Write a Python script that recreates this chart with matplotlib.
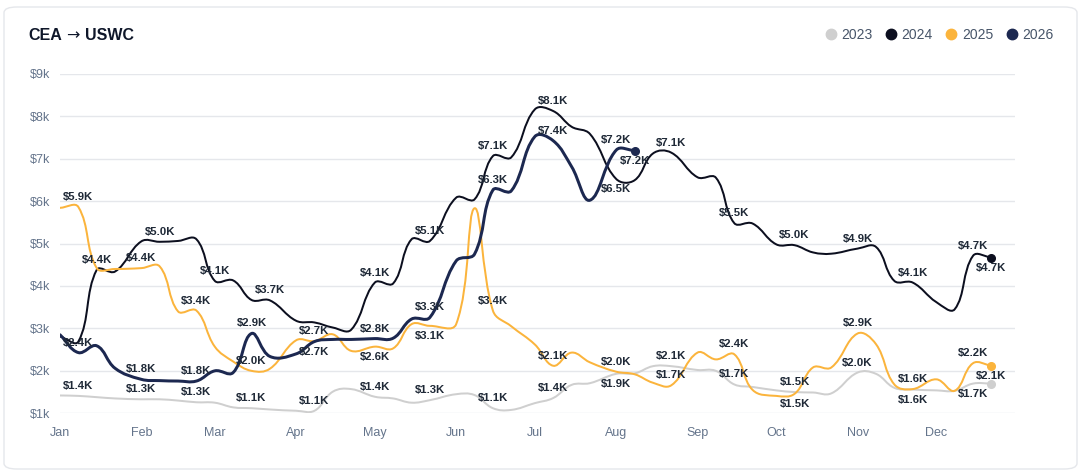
"""
CEA -> USWC weekly rate chart, one line per year
"""
import datetime
import numpy as np
import matplotlib
matplotlib.use("Agg")
import matplotlib.pyplot as plt
from matplotlib.path import Path
from matplotlib.patches import PathPatch, FancyBboxPatch
from matplotlib.lines import Line2D

plt.rcParams['font.family'] = ['Liberation Sans', 'DejaVu Sans']

# data: 4 points per month (1st, 8th, 15th, 22nd), values in $k
month_names = ['Jan', 'Feb', 'Mar', 'Apr', 'May', 'Jun',
               'Jul', 'Aug', 'Sep', 'Oct', 'Nov', 'Dec']
point_days = [1, 8, 15, 22]

rates_2023 = [1.42, 1.41, 1.38, 1.35, 1.33, 1.33, 1.30, 1.26, 1.25, 1.14, 1.12, 1.09,
              1.06, 1.06, 1.51, 1.57, 1.39, 1.35, 1.25, 1.31, 1.45, 1.43, 1.12, 1.08,
              1.24, 1.36, 1.67, 1.71, 1.93, 1.94, 2.11, 2.11, 2.02, 2.00, 1.68, 1.62,
              1.54, 1.50, 1.49, 1.47, 1.96, 1.93, 1.60, 1.56, 1.54, 1.53, 1.70, 1.70]
rates_2024 = [2.81, 2.69, 4.38, 4.34, 5.05, 5.04, 5.06, 5.10, 4.12, 4.13, 3.67, 3.66,
              3.18, 3.14, 3.02, 2.97, 4.08, 4.06, 5.10, 5.06, 6.08, 6.04, 7.06, 7.03,
              8.16, 8.12, 7.75, 7.58, 6.52, 6.49, 7.12, 7.14, 6.56, 6.55, 5.48, 5.47,
              4.98, 4.96, 4.79, 4.76, 4.88, 4.92, 4.12, 4.08, 3.62, 3.45, 4.71, 4.67]
rates_2025 = [5.84, 5.86, 4.42, 4.40, 4.42, 4.46, 3.40, 3.42, 2.57, 2.22, 2.00, 2.05,
              2.72, 2.70, 2.86, 2.47, 2.57, 2.53, 3.10, 3.06, 3.10, 5.83, 3.42, 3.05,
              2.62, 2.12, 2.43, 2.20, 1.98, 1.92, 1.72, 1.66, 2.43, 2.27, 2.39, 1.55,
              1.41, 1.46, 2.08, 2.08, 2.88, 2.63, 1.68, 1.57, 1.80, 1.53, 2.18, 2.12]
rates_2026 = [2.85, 2.43, 2.59, 2.06, 1.80, 1.77, 1.76, 1.76, 2.00, 1.96, 2.88, 2.34,
              2.40, 2.69, 2.74, 2.74, 2.76, 2.77, 3.22, 3.26, 4.59, 4.75, 6.26, 6.24,
              7.52, 7.42, 6.81, 6.02, 7.20, 7.19]

# which points carry a value label, 'a' above / 'b' below
labels_2023 = [(1, 'a'), (4, 'a'), (7, 'a'), (10, 'a'), (13, 'a'), (16, 'a'), (19, 'a'),
               (22, 'a'), (25, 'a'), (28, 'b'), (31, 'a'), (34, 'a'), (37, 'a'),
               (40, 'a'), (43, 'b'), (46, 'b')]
labels_2024 = [(2, 'a'), (5, 'a'), (8, 'a'), (11, 'a'), (16, 'a'), (19, 'a'), (22, 'a'),
               (25, 'a'), (28, 'b'), (31, 'a'), (34, 'a'), (37, 'a'), (40, 'a'),
               (43, 'a'), (46, 'a'), (47, 'b')]
labels_2025 = [(1, 'a'), (4, 'a'), (7, 'a'), (10, 'a'), (13, 'a'), (16, 'b'), (19, 'b'),
               (22, 'a'), (25, 'a'), (28, 'a'), (31, 'a'), (34, 'a'), (37, 'b'),
               (40, 'a'), (43, 'a'), (46, 'a'), (47, 'b')]
labels_2026 = [(1, 'a'), (4, 'a'), (7, 'a'), (10, 'a'), (13, 'b'), (16, 'a'), (19, 'a'),
               (22, 'a'), (25, 'a'), (28, 'a'), (29, 'b')]

series = [
    ('2023', rates_2023, labels_2023, '#cfcfcf', 2.0),
    ('2024', rates_2024, labels_2024, '#0c0f1f', 2.0),
    ('2025', rates_2025, labels_2025, '#fbb43c', 2.0),
    ('2026', rates_2026, labels_2026, '#1c2850', 3.0),
]


def day_of_year(month, day):
    return datetime.date(2023, month, day).timetuple().tm_yday - 1


point_x = [day_of_year(m, d) for m in range(1, 13) for d in point_days]
month_x = [day_of_year(m, 1) for m in range(1, 13)]


def spline_path(ax, xs, ys, tension=0.4):
    """Bezier path like Chart.js 'default' cubic interpolation."""
    pts = ax.transData.transform(np.column_stack([xs, ys]))
    n = len(pts)
    cp_prev, cp_next = [], []
    for i in range(n):
        p0 = pts[i - 1] if i > 0 else pts[i]
        p1 = pts[i]
        p2 = pts[i + 1] if i < n - 1 else pts[i]
        d01 = np.hypot(*(p1 - p0))
        d12 = np.hypot(*(p2 - p1))
        tot = d01 + d12
        s01 = d01 / tot if tot else 0
        s12 = d12 / tot if tot else 0
        cp_prev.append(p1 - tension * s01 * (p2 - p0))
        cp_next.append(p1 + tension * s12 * (p2 - p0))
    verts = [pts[0]]
    codes = [Path.MOVETO]
    for i in range(n - 1):
        verts += [cp_next[i], cp_prev[i + 1], pts[i + 1]]
        codes += [Path.CURVE4] * 3
    verts = ax.transData.inverted().transform(np.array(verts))
    return Path(verts, codes)


W, H = 1084, 472
fig = plt.figure(figsize=(W / 100, H / 100), dpi=100)
fig.patch.set_facecolor('white')

# card outline
card = FancyBboxPatch((4 / W, 3 / H), 1073 / W, 462 / H,
                      boxstyle='round,pad=0,rounding_size=0.012',
                      transform=fig.transFigure, facecolor='none',
                      edgecolor='#e5e7eb', linewidth=1.0, zorder=-1)
fig.patches.append(card)

ax = fig.add_axes([60 / W, (H - 413.3) / H, 955 / W, (413.3 - 73.7) / H])
ax.set_facecolor('none')
ax.set_xlim(0, 364)
ax.set_ylim(1, 9)

ax.set_yticks(range(1, 10))
ax.set_yticklabels([f'${v}k' for v in range(1, 10)])
ax.set_xticks(month_x)
ax.set_xticklabels(month_names)
ax.tick_params(axis='both', length=0, labelsize=9, colors='#64748b')
ax.tick_params(axis='y', pad=7)
ax.tick_params(axis='x', pad=10)
for s in ax.spines.values():
    s.set_visible(False)
ax.grid(axis='y', color='#e5e7eb', linewidth=1.0)
ax.set_axisbelow(True)

for name, vals, labs, color, lw in series:
    xs = point_x[:len(vals)]
    path = spline_path(ax, xs, vals)
    ax.add_patch(PathPatch(path, facecolor='none', edgecolor=color,
                           linewidth=lw * 0.72, capstyle='round',
                           joinstyle='round', zorder=3))
    ax.plot([xs[-1]], [vals[-1]], 'o', color=color, markersize=5.5, zorder=4)

for name, vals, labs, color, lw in series:
    for idx, pos in labs:
        off = 7.2 if pos == 'a' else -7.2
        ax.annotate(f'${vals[idx]:.1f}K', (point_x[idx], vals[idx]),
                    xytext=(0, off), textcoords='offset points',
                    ha='center', va='center', fontsize=8.2, fontweight='bold',
                    color='#1f2937', zorder=6)

# title, arrow taken from DejaVu for a full-size glyph
fig.text(28 / W, 1 - 36 / H, 'CEA', fontsize=11.5, fontweight='bold',
         color='#0f172a', ha='left', va='center')
fig.text(66 / W, 1 - 36 / H, '\u2192', fontsize=11.5, family='DejaVu Sans',
         color='#0f172a', ha='left', va='center')
fig.text(85 / W, 1 - 36 / H, 'USWC', fontsize=11.5, fontweight='bold',
         color='#0f172a', ha='left', va='center')

handles = [Line2D([], [], marker='o', linestyle='none', markersize=7.5,
                  color=c, label=n) for n, v, l, c, w in series]
fig.legend(handles=handles, loc='center right',
           bbox_to_anchor=(1066 / W, 1 - 35 / H), ncol=4, frameon=False,
           fontsize=10, handlelength=0.8, handletextpad=0.35,
           columnspacing=0.95, labelcolor='#475569')

fig.savefig('out.png', dpi=100)
